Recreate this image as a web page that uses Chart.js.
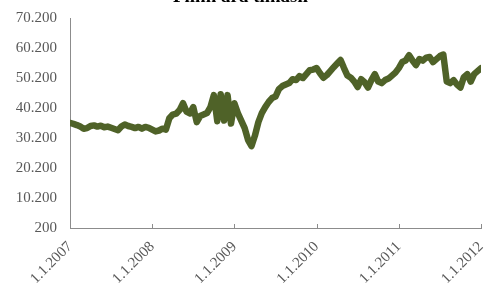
<!DOCTYPE html>
<html>
<head>
<meta charset="utf-8">
<script src="https://cdn.jsdelivr.net/npm/chart.js@4.4.1/dist/chart.umd.min.js"></script>
<style>
  html, body { margin: 0; padding: 0; background: #fff; overflow: hidden; }
  #wrap { position: relative; top: -14px; width: 485px; height: 297px; }
</style>
</head>
<body>
<div id="wrap"><canvas id="chart" width="485" height="297"></canvas></div>
<script>
// half-month steps from 1.1.2007 to 1.1.2012
const stepsPerYear = 24;
const firstYear = 2007;
const yTicks = [200, 10200, 20200, 30200, 40200, 50200, 60200, 70200];

const values = [
  // 2007
  35200, 34900, 34500, 34000, 33300, 33500, 34200, 34400, 34000, 34300, 33800, 34000,
  33600, 33200, 32800, 34000, 34700, 34200, 33900, 33500, 33900, 33300, 33900, 33600,
  // 2008
  33000, 32400, 32700, 33300, 33000, 36800, 38000, 38300, 39500, 41800, 39000, 38400,
  40500, 35500, 37500, 38000, 38500, 40500, 44500, 35800, 44800, 36000, 44500, 35000,
  // 2009
  41800, 38500, 36000, 33500, 29500, 27500, 31000, 35500, 38500, 40500, 42200, 43500,
  44000, 46500, 47500, 48000, 48500, 49800, 49500, 50800, 50200, 51500, 52800, 53000,
  // 2010
  53500, 51800, 50300, 51200, 52500, 53800, 55000, 56200, 53500, 51000, 50300, 49000,
  47200, 49800, 48800, 47000, 49500, 51500, 49000, 48500, 49500, 50000, 51000, 52000,
  // 2011
  53500, 55500, 56000, 57800, 56000, 54500, 56500, 56000, 57000, 57200, 55500, 56500,
  57500, 58000, 49000, 48500, 49500, 48000, 47000, 50500, 51500, 49000, 51500, 52500,
  // 1.1.2012
  53500
];

const points = values.map((v, i) => ({ x: i, y: v }));

const serif = "'Liberation Serif', 'Times New Roman', serif";

// small inward tick marks on the x axis at each year
const innerTicks = {
  id: 'innerTicks',
  afterDraw(chart) {
    const x = chart.scales.x;
    const ctx = chart.ctx;
    ctx.save();
    ctx.strokeStyle = '#8c8c8c';
    ctx.lineWidth = 1;
    x.ticks.forEach(t => {
      const px = Math.round(x.getPixelForValue(t.value)) + 0.5;
      ctx.beginPath();
      ctx.moveTo(px, chart.chartArea.bottom);
      ctx.lineTo(px, chart.chartArea.bottom - 4);
      ctx.stroke();
    });
    ctx.restore();
  }
};

new Chart(document.getElementById('chart'), {
  type: 'line',
  data: {
    datasets: [{
      data: points,
      borderColor: '#4f6228',
      borderWidth: 6.5,
      pointRadius: 0,
      tension: 0,
      borderJoinStyle: 'round',
      borderCapStyle: 'round'
    }]
  },
  options: {
    responsive: false,
    animation: false,
    layout: { padding: { left: 0, right: 4, top: 0, bottom: 0 } },
    plugins: {
      legend: { display: false },
      tooltip: { enabled: false },
      title: {
        display: true,
        text: 'Fiinn ara timasli',
        color: '#000',
        font: { family: serif, size: 19, weight: 'bold' },
        padding: { top: 0, bottom: 9.2 }
      }
    },
    scales: {
      x: {
        type: 'linear',
        min: 0,
        max: values.length - 1,
        afterFit: s => { s.height = 55; s.paddingRight = 0; s.paddingLeft = 0; },
        grid: { display: false },
        border: { display: true, color: '#8c8c8c', width: 1 },
        ticks: {
          stepSize: stepsPerYear,
          minRotation: 45,
          maxRotation: 45,
          padding: 2,
          color: '#595959',
          font: { family: serif, size: 15 },
          callback: v => '1.1.' + (firstYear + v / stepsPerYear)
        }
      },
      y: {
        min: yTicks[0],
        max: yTicks[yTicks.length - 1],
        afterFit: s => { s.width = 70; },
        afterBuildTicks: s => { s.ticks = yTicks.map(v => ({ value: v })); },
        grid: { display: false },
        border: { display: true, color: '#8c8c8c', width: 1 },
        ticks: {
          padding: 5,
          color: '#595959',
          font: { family: serif, size: 15 },
          callback: v => v.toLocaleString('de-DE')
        }
      }
    }
  },
  plugins: [innerTicks]
});
</script>
</body>
</html>
